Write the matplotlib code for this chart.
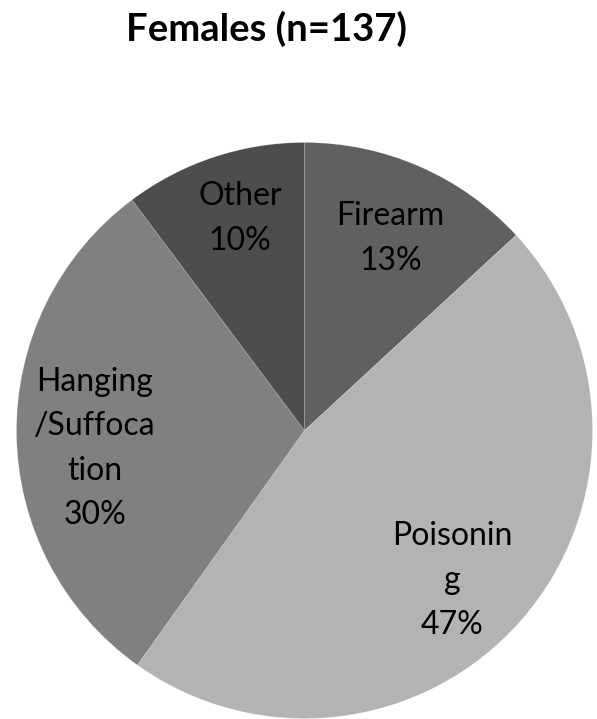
import numpy as np
import matplotlib
matplotlib.use('Agg')
import matplotlib.pyplot as plt

plt.rcParams['font.family'] = ['Lato', 'DejaVu Sans']

# suicide method counts, females (n=137)
methods = ['Firearm', 'Poisoning', 'Hanging/Suffocation', 'Other']
counts = [18, 64, 41, 14]
# wrapped the same way the slide wrapped them
label_lines = ['Firearm', 'Poisonin\ng', 'Hanging\n/Suffoca\ntion', 'Other']
colors = ['#606060', '#b3b3b3', '#808080', '#4d4d4d']

fig = plt.figure(figsize=(5.97, 7.19), dpi=100)
R = 288.0
cx, cy = 304.5, 719 - 430.5
ax = fig.add_axes([(cx - R) / 597, (cy - R) / 719, 2 * R / 597, 2 * R / 719])

wedges, _ = ax.pie(counts, colors=colors, startangle=90, counterclock=False,
                   radius=1.0,
                   wedgeprops=dict(edgecolor=(1, 1, 1, 0.35), linewidth=0.3))
ax.set_xlim(-1, 1)
ax.set_ylim(-1, 1)
ax.set_aspect('equal')
ax.axis('off')

total = sum(counts)
# label radius and a small angle nudge (degrees) off each wedge's middle
dists = [0.73, 0.73, 0.73, 0.77]
nudges = [-0.5, -4.0, 4.2, -1.5]
for w, lab, c, d, nd in zip(wedges, label_lines, counts, dists, nudges):
    mid = np.deg2rad((w.theta1 + w.theta2) / 2 + nd)
    pct = round(100 * c / total)
    ax.text(d * np.cos(mid), d * np.sin(mid), f'{lab}\n{pct}%',
            ha='center', va='center', fontsize=23, linespacing=1.6,
            color='black')

fig.text(0.446, 1 - 29 / 719, 'Females (n=137)', ha='center', va='center',
         fontsize=27.5, fontweight='bold')

fig.savefig('out.png', dpi=100)
